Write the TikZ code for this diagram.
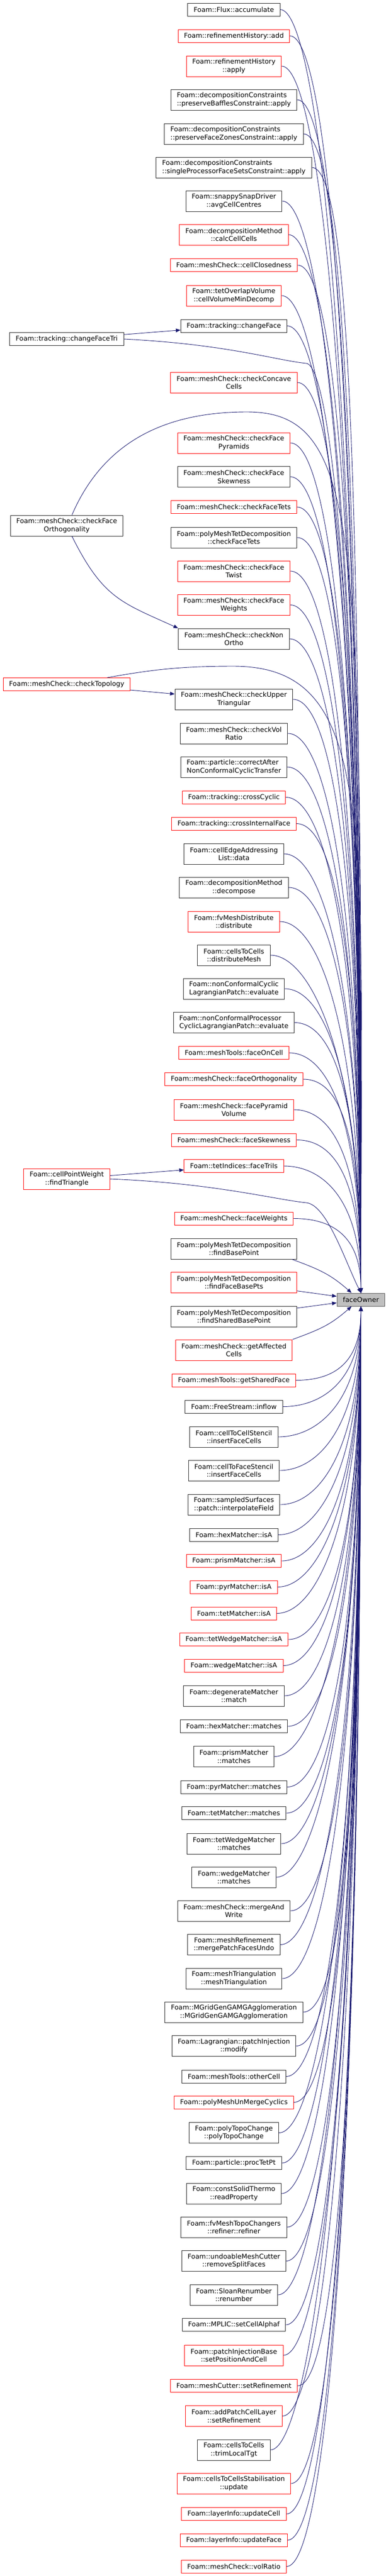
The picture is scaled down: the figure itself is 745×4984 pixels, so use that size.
\documentclass[tikz,border=0pt]{standalone}
\usepackage{fontspec}
\setmainfont{DejaVu Sans}
\usetikzlibrary{arrows.meta}
\definecolor{edgeblue}{HTML}{191970}
\tikzset{
  fn/.style={draw=black!85, line width=1pt, fill=white, inner xsep=11.5pt, inner ysep=0pt,
    minimum height=25pt, align=center, font=\fontsize{12.9}{15.5}\selectfont},
  fn2/.style={fn, minimum height=40pt},
  trunc/.style={draw=red},
  call/.style={draw=edgeblue, line width=0.9pt, arrows={-{Triangle[length=9pt, width=7pt]}}}
}
\begin{document}
\begin{tikzpicture}[x=1pt, y=1pt]
	\useasboundingbox (0,0) rectangle (745,-4984);
	% the called function
	\node[fn, fill=black!25, draw=black!65] (faceOwner) at (697.5,-2514.5) {faceOwner};
	% callers
	\node[fn] (accumulate) at (452,-18.5) {Foam::Flux::accumulate};
	\node[fn, trunc] (refHistAdd) at (452,-69.5) {Foam::refinementHistory::add};
	\node[fn2, trunc] (refHistApply) at (452,-128) {Foam::refinementHistory\\::apply};
	\node[fn2, align=left] (preserveBaffles) at (452,-193) {Foam::decompositionConstraints\\::preserveBafflesConstraint::apply};
	\node[fn2, align=left] (preserveFaceZones) at (452,-259) {Foam::decompositionConstraints\\::preserveFaceZonesConstraint::apply};
	\node[fn2, align=left] (singleProc) at (452,-324) {Foam::decompositionConstraints\\::singleProcessorFaceSetsConstraint::apply};
	\node[fn2] (avgCellCentres) at (452,-389) {Foam::snappySnapDriver\\::avgCellCentres};
	\node[fn2, trunc] (calcCellCells) at (452,-454) {Foam::decompositionMethod\\::calcCellCells};
	\node[fn, trunc] (cellClosedness) at (452,-513) {Foam::meshCheck::cellClosedness};
	\node[fn2, trunc] (cellVolumeMinDecomp) at (452,-572) {Foam::tetOverlapVolume\\::cellVolumeMinDecomp};
	\node[fn] (changeFace) at (452,-630.5) {Foam::tracking::changeFace};
	\node[fn2, trunc] (checkConcaveCells) at (452,-740) {Foam::meshCheck::checkConcave\\Cells};
	\node[fn2, trunc] (checkFacePyramids) at (452,-857) {Foam::meshCheck::checkFace\\Pyramids};
	\node[fn2] (checkFaceSkewness) at (452,-922.5) {Foam::meshCheck::checkFace\\Skewness};
	\node[fn, trunc] (mcCheckFaceTets) at (452,-981) {Foam::meshCheck::checkFaceTets};
	\node[fn2] (pmtdCheckFaceTets) at (452,-1040) {Foam::polyMeshTetDecomposition\\::checkFaceTets};
	\node[fn2, trunc] (checkFaceTwist) at (452,-1105) {Foam::meshCheck::checkFace\\Twist};
	\node[fn2, trunc] (checkFaceWeights) at (452,-1170.5) {Foam::meshCheck::checkFace\\Weights};
	\node[fn2] (checkNonOrtho) at (452,-1236) {Foam::meshCheck::checkNon\\Ortho};
	\node[fn2] (checkUpperTriangular) at (452,-1353) {Foam::meshCheck::checkUpper\\Triangular};
	\node[fn2] (checkVolRatio) at (452,-1419) {Foam::meshCheck::checkVol\\Ratio};
	\node[fn2, align=left] (correctAfter) at (452,-1484) {Foam::particle::correctAfter\\NonConformalCyclicTransfer};
	\node[fn, trunc] (crossCyclic) at (452,-1542.5) {Foam::tracking::crossCyclic};
	\node[fn, trunc] (crossInternalFace) at (452,-1593.5) {Foam::tracking::crossInternalFace};
	\node[fn2] (cellEdgeData) at (452,-1652) {Foam::cellEdgeAddressing\\List::data};
	\node[fn2] (decompose) at (452,-1717) {Foam::decompositionMethod\\::decompose};
	\node[fn2, trunc] (distribute) at (452,-1783) {Foam::fvMeshDistribute\\::distribute};
	\node[fn2] (distributeMesh) at (452,-1848) {Foam::cellsToCells\\::distributeMesh};
	\node[fn2] (ncCyclicEvaluate) at (452,-1913) {Foam::nonConformalCyclic\\LagrangianPatch::evaluate};
	\node[fn2, align=left] (ncProcEvaluate) at (452,-1978.5) {Foam::nonConformalProcessor\\CyclicLagrangianPatch::evaluate};
	\node[fn, trunc] (faceOnCell) at (452,-2037) {Foam::meshTools::faceOnCell};
	\node[fn, trunc] (faceOrthogonality) at (452,-2088) {Foam::meshCheck::faceOrthogonality};
	\node[fn2, trunc] (facePyramidVolume) at (452,-2147) {Foam::meshCheck::facePyramid\\Volume};
	\node[fn, trunc] (faceSkewness) at (452,-2205.5) {Foam::meshCheck::faceSkewness};
	\node[fn, trunc] (faceTriIs) at (452,-2256) {Foam::tetIndices::faceTriIs};
	\node[fn, trunc] (faceWeights) at (452,-2357.5) {Foam::meshCheck::faceWeights};
	\node[fn2] (findBasePoint) at (452,-2416) {Foam::polyMeshTetDecomposition\\::findBasePoint};
	\node[fn2, trunc] (findFaceBasePts) at (452,-2481) {Foam::polyMeshTetDecomposition\\::findFaceBasePts};
	\node[fn2] (findSharedBasePoint) at (452,-2547) {Foam::polyMeshTetDecomposition\\::findSharedBasePoint};
	\node[fn2, trunc] (getAffectedCells) at (452,-2612) {Foam::meshCheck::getAffected\\Cells};
	\node[fn, trunc] (getSharedFace) at (452,-2670.5) {Foam::meshTools::getSharedFace};
	\node[fn] (inflow) at (452,-2721.5) {Foam::FreeStream::inflow};
	\node[fn2] (cellStencilInsert) at (452,-2780) {Foam::cellToCellStencil\\::insertFaceCells};
	\node[fn2] (faceStencilInsert) at (452,-2845) {Foam::cellToFaceStencil\\::insertFaceCells};
	\node[fn2] (interpolateField) at (452,-2911) {Foam::sampledSurfaces\\::patch::interpolateField};
	\node[fn] (hexIsA) at (452,-2969.5) {Foam::hexMatcher::isA};
	\node[fn, trunc] (prismIsA) at (452,-3020) {Foam::prismMatcher::isA};
	\node[fn, trunc] (pyrIsA) at (452,-3070.5) {Foam::pyrMatcher::isA};
	\node[fn, trunc] (tetIsA) at (452,-3121.5) {Foam::tetMatcher::isA};
	\node[fn, trunc] (tetWedgeIsA) at (452,-3172) {Foam::tetWedgeMatcher::isA};
	\node[fn, trunc] (wedgeIsA) at (452,-3222.5) {Foam::wedgeMatcher::isA};
	\node[fn2] (degenerateMatch) at (452,-3281) {Foam::degenerateMatcher\\::match};
	\node[fn] (hexMatches) at (452,-3340) {Foam::hexMatcher::matches};
	\node[fn2] (prismMatches) at (452,-3398.5) {Foam::prismMatcher\\::matches};
	\node[fn] (pyrMatches) at (452,-3457.5) {Foam::pyrMatcher::matches};
	\node[fn] (tetMatches) at (452,-3508) {Foam::tetMatcher::matches};
	\node[fn2] (tetWedgeMatches) at (452,-3567) {Foam::tetWedgeMatcher\\::matches};
	\node[fn2] (wedgeMatches) at (452,-3632) {Foam::wedgeMatcher\\::matches};
	\node[fn2] (mergeAndWrite) at (452,-3697) {Foam::meshCheck::mergeAnd\\Write};
	\node[fn2] (mergePatchFacesUndo) at (452,-3762.5) {Foam::meshRefinement\\::mergePatchFacesUndo};
	\node[fn2] (meshTriangulation) at (452,-3828) {Foam::meshTriangulation\\::meshTriangulation};
	\node[fn2] (mgridGen) at (452,-3893) {Foam::MGridGenGAMGAgglomeration\\::MGridGenGAMGAgglomeration};
	\node[fn2] (patchInjModify) at (452,-3958.5) {Foam::Lagrangian::patchInjection\\::modify};
	\node[fn] (otherCell) at (452,-4017.5) {Foam::meshTools::otherCell};
	\node[fn, trunc] (unMergeCyclics) at (452,-4067.5) {Foam::polyMeshUnMergeCyclics};
	\node[fn2] (polyTopoChange) at (452,-4126.5) {Foam::polyTopoChange\\::polyTopoChange};
	\node[fn] (procTetPt) at (452,-4185) {Foam::particle::procTetPt};
	\node[fn2] (readProperty) at (452,-4244) {Foam::constSolidThermo\\::readProperty};
	\node[fn2] (refiner) at (452,-4309) {Foam::fvMeshTopoChangers\\::refiner::refiner};
	\node[fn2] (removeSplitFaces) at (452,-4374.5) {Foam::undoableMeshCutter\\::removeSplitFaces};
	\node[fn2] (renumber) at (452,-4440) {Foam::SloanRenumber\\::renumber};
	\node[fn] (setCellAlphaf) at (452,-4498) {Foam::MPLIC::setCellAlphaf};
	\node[fn2, trunc] (setPositionAndCell) at (452,-4557) {Foam::patchInjectionBase\\::setPositionAndCell};
	\node[fn, trunc] (cutterSetRefinement) at (452,-4616) {Foam::meshCutter::setRefinement};
	\node[fn2, trunc] (layerSetRefinement) at (452,-4674.5) {Foam::addPatchCellLayer\\::setRefinement};
	\node[fn2] (trimLocalTgt) at (452,-4740) {Foam::cellsToCells\\::trimLocalTgt};
	\node[fn2, trunc] (stabilisationUpdate) at (452,-4805) {Foam::cellsToCellsStabilisation\\::update};
	\node[fn, trunc] (updateCell) at (452,-4864) {Foam::layerInfo::updateCell};
	\node[fn, trunc] (updateFace) at (452,-4914.5) {Foam::layerInfo::updateFace};
	\node[fn, trunc] (volRatio) at (452,-4965.5) {Foam::meshCheck::volRatio};
	% callers of callers
	\node[fn] (changeFaceTri) at (129,-656) {Foam::tracking::changeFaceTri};
	\node[fn2] (checkFaceOrthogonality) at (129,-1017) {Foam::meshCheck::checkFace\\Orthogonality};
	\node[fn, trunc] (checkTopology) at (129,-1324) {Foam::meshCheck::checkTopology};
	\node[fn2, trunc] (findTriangle) at (129,-2281) {Foam::cellPointWeight\\::findTriangle};
	\coordinate (triBend) at (592,-703);
	\coordinate (orthoTop) at (477,-797);
	\coordinate (topoTop) at (451,-1289);
	\coordinate (triangleBend) at (592,-2327);

	% edges into the top of faceOwner
	\draw[call] (accumulate.east) .. controls +(75,0) and +(0,1747) .. (faceOwner.north);
	\draw[call] (refHistAdd.east) .. controls +(75,0) and +(0,1711) .. (faceOwner.north);
	\draw[call] (refHistApply.east) .. controls +(75,0) and +(0,1670) .. (faceOwner.north);
	\draw[call] (preserveBaffles.east) .. controls +(75,0) and +(0,1625) .. (faceOwner.north);
	\draw[call] (preserveFaceZones.east) .. controls +(75,0) and +(0,1579) .. (faceOwner.north);
	\draw[call] (singleProc.east) .. controls +(75,0) and +(0,1533) .. (faceOwner.north);
	\draw[call] (avgCellCentres.east) .. controls +(75,0) and +(0,1488) .. (faceOwner.north);
	\draw[call] (calcCellCells.east) .. controls +(75,0) and +(0,1442) .. (faceOwner.north);
	\draw[call] (cellClosedness.east) .. controls +(75,0) and +(0,1401) .. (faceOwner.north);
	\draw[call] (cellVolumeMinDecomp.east) .. controls +(75,0) and +(0,1360) .. (faceOwner.north);
	\draw[call] (changeFace.east) .. controls +(75,0) and +(0,1319) .. (faceOwner.north);
	\draw[call] (checkConcaveCells.east) .. controls +(75,0) and +(0,1242) .. (faceOwner.north);
	\draw[call] (checkFacePyramids.east) .. controls +(75,0) and +(0,1160) .. (faceOwner.north);
	\draw[call] (checkFaceSkewness.east) .. controls +(75,0) and +(0,1114) .. (faceOwner.north);
	\draw[call] (mcCheckFaceTets.east) .. controls +(75,0) and +(0,1073) .. (faceOwner.north);
	\draw[call] (pmtdCheckFaceTets.east) .. controls +(75,0) and +(0,1032) .. (faceOwner.north);
	\draw[call] (checkFaceTwist.east) .. controls +(75,0) and +(0,987) .. (faceOwner.north);
	\draw[call] (checkFaceWeights.east) .. controls +(75,0) and +(0,941) .. (faceOwner.north);
	\draw[call] (checkNonOrtho.east) .. controls +(75,0) and +(0,895) .. (faceOwner.north);
	\draw[call] (checkUpperTriangular.east) .. controls +(75,0) and +(0,813) .. (faceOwner.north);
	\draw[call] (checkVolRatio.east) .. controls +(75,0) and +(0,767) .. (faceOwner.north);
	\draw[call] (correctAfter.east) .. controls +(75,0) and +(0,721) .. (faceOwner.north);
	\draw[call] (crossCyclic.east) .. controls +(75,0) and +(0,680) .. (faceOwner.north);
	\draw[call] (crossInternalFace.east) .. controls +(75,0) and +(0,645) .. (faceOwner.north);
	\draw[call] (cellEdgeData.east) .. controls +(75,0) and +(0,604) .. (faceOwner.north);
	\draw[call] (decompose.east) .. controls +(75,0) and +(0,558) .. (faceOwner.north);
	\draw[call] (distribute.east) .. controls +(75,0) and +(0,512) .. (faceOwner.north);
	\draw[call] (distributeMesh.east) .. controls +(75,0) and +(0,467) .. (faceOwner.north);
	\draw[call] (ncCyclicEvaluate.east) .. controls +(75,0) and +(0,421) .. (faceOwner.north);
	\draw[call] (ncProcEvaluate.east) .. controls +(75,0) and +(0,375) .. (faceOwner.north);
	\draw[call] (faceOnCell.east) .. controls +(75,0) and +(0,334) .. (faceOwner.north);
	\draw[call] (faceOrthogonality.east) .. controls +(75,0) and +(0,299) .. (faceOwner.north);
	\draw[call] (facePyramidVolume.east) .. controls +(75,0) and +(0,257) .. (faceOwner.north);
	\draw[call] (faceSkewness.east) .. controls +(75,0) and +(0,216) .. (faceOwner.north);
	\draw[call] (faceTriIs.east) .. controls +(75,0) and +(0,181) .. (faceOwner.north);
	\draw[call] (faceWeights.east) .. controls +(75,0) and +(0,110) .. (faceOwner.north);
	\draw[call] ([xshift=-10pt]findBasePoint.south east) .. controls +(55,-20) and +(-40,35) .. ([xshift=-18pt]faceOwner.north);
	% edges into the side of faceOwner
	\draw[call] (findFaceBasePts) -- (faceOwner);
	\draw[call] (findSharedBasePoint) -- (faceOwner);
	% edges into the bottom of faceOwner
	\draw[call] (getAffectedCells.north east) .. controls +(55,20) and +(-40,-35) .. ([xshift=-18pt]faceOwner.south);
	\draw[call] (getSharedFace.east) .. controls +(75,0) and +(0,-109) .. (faceOwner.south);
	\draw[call] (inflow.east) .. controls +(75,0) and +(0,-145) .. (faceOwner.south);
	\draw[call] (cellStencilInsert.east) .. controls +(75,0) and +(0,-186) .. (faceOwner.south);
	\draw[call] (faceStencilInsert.east) .. controls +(75,0) and +(0,-231) .. (faceOwner.south);
	\draw[call] (interpolateField.east) .. controls +(75,0) and +(0,-278) .. (faceOwner.south);
	\draw[call] (hexIsA.east) .. controls +(75,0) and +(0,-318) .. (faceOwner.south);
	\draw[call] (prismIsA.east) .. controls +(75,0) and +(0,-354) .. (faceOwner.south);
	\draw[call] (pyrIsA.east) .. controls +(75,0) and +(0,-389) .. (faceOwner.south);
	\draw[call] (tetIsA.east) .. controls +(75,0) and +(0,-425) .. (faceOwner.south);
	\draw[call] (tetWedgeIsA.east) .. controls +(75,0) and +(0,-460) .. (faceOwner.south);
	\draw[call] (wedgeIsA.east) .. controls +(75,0) and +(0,-496) .. (faceOwner.south);
	\draw[call] (degenerateMatch.east) .. controls +(75,0) and +(0,-537) .. (faceOwner.south);
	\draw[call] (hexMatches.east) .. controls +(75,0) and +(0,-578) .. (faceOwner.south);
	\draw[call] (prismMatches.east) .. controls +(75,0) and +(0,-619) .. (faceOwner.south);
	\draw[call] (pyrMatches.east) .. controls +(75,0) and +(0,-660) .. (faceOwner.south);
	\draw[call] (tetMatches.east) .. controls +(75,0) and +(0,-695) .. (faceOwner.south);
	\draw[call] (tetWedgeMatches.east) .. controls +(75,0) and +(0,-737) .. (faceOwner.south);
	\draw[call] (wedgeMatches.east) .. controls +(75,0) and +(0,-782) .. (faceOwner.south);
	\draw[call] (mergeAndWrite.east) .. controls +(75,0) and +(0,-828) .. (faceOwner.south);
	\draw[call] (mergePatchFacesUndo.east) .. controls +(75,0) and +(0,-874) .. (faceOwner.south);
	\draw[call] (meshTriangulation.east) .. controls +(75,0) and +(0,-919) .. (faceOwner.south);
	\draw[call] (mgridGen.east) .. controls +(75,0) and +(0,-965) .. (faceOwner.south);
	\draw[call] (patchInjModify.east) .. controls +(75,0) and +(0,-1011) .. (faceOwner.south);
	\draw[call] (otherCell.east) .. controls +(75,0) and +(0,-1052) .. (faceOwner.south);
	\draw[call] (unMergeCyclics.east) .. controls +(75,0) and +(0,-1087) .. (faceOwner.south);
	\draw[call] (polyTopoChange.east) .. controls +(75,0) and +(0,-1128) .. (faceOwner.south);
	\draw[call] (procTetPt.east) .. controls +(75,0) and +(0,-1169) .. (faceOwner.south);
	\draw[call] (readProperty.east) .. controls +(75,0) and +(0,-1211) .. (faceOwner.south);
	\draw[call] (refiner.east) .. controls +(75,0) and +(0,-1256) .. (faceOwner.south);
	\draw[call] (removeSplitFaces.east) .. controls +(75,0) and +(0,-1302) .. (faceOwner.south);
	\draw[call] (renumber.east) .. controls +(75,0) and +(0,-1348) .. (faceOwner.south);
	\draw[call] (setCellAlphaf.east) .. controls +(75,0) and +(0,-1388) .. (faceOwner.south);
	\draw[call] (setPositionAndCell.east) .. controls +(75,0) and +(0,-1430) .. (faceOwner.south);
	\draw[call] (cutterSetRefinement.east) .. controls +(75,0) and +(0,-1471) .. (faceOwner.south);
	\draw[call] (layerSetRefinement.east) .. controls +(75,0) and +(0,-1512) .. (faceOwner.south);
	\draw[call] (trimLocalTgt.east) .. controls +(75,0) and +(0,-1558) .. (faceOwner.south);
	\draw[call] (stabilisationUpdate.east) .. controls +(75,0) and +(0,-1603) .. (faceOwner.south);
	\draw[call] (updateCell.east) .. controls +(75,0) and +(0,-1645) .. (faceOwner.south);
	\draw[call] (updateFace.east) .. controls +(75,0) and +(0,-1680) .. (faceOwner.south);
	\draw[call] (volRatio.east) .. controls +(75,0) and +(0,-1716) .. (faceOwner.south);

	% edges from the left column
	\draw[call] (changeFaceTri) -- (changeFace);
	\draw[call] (changeFaceTri.east) .. controls +(200,-10) and +(-60,6) .. (triBend) .. controls +(50,-5) and +(0,1250) .. (faceOwner.north);
	\draw[call] ([xshift=10pt]checkFaceOrthogonality.south) .. controls +(60,-120) and +(-110,50) .. (checkNonOrtho.north west);
	\draw[call] ([xshift=10pt]checkFaceOrthogonality.north) .. controls +(60,140) and +(-160,0) .. (orthoTop) .. controls +(230,0) and +(0,1450) .. (faceOwner.north);
	\draw[call] (checkTopology) -- (checkUpperTriangular);
	\draw[call] ([xshift=-45pt]checkTopology.north east) .. controls +(90,16) and +(-100,0) .. (topoTop) .. controls +(280,0) and +(0,900) .. (faceOwner.north);
	\draw[call] (findTriangle) -- (faceTriIs);
	\draw[call] (findTriangle.east) .. controls +(200,-8) and +(-60,6) .. (triangleBend) .. controls +(40,-4) and +(-30,60) .. (faceOwner.north);
\end{tikzpicture}
\end{document}
